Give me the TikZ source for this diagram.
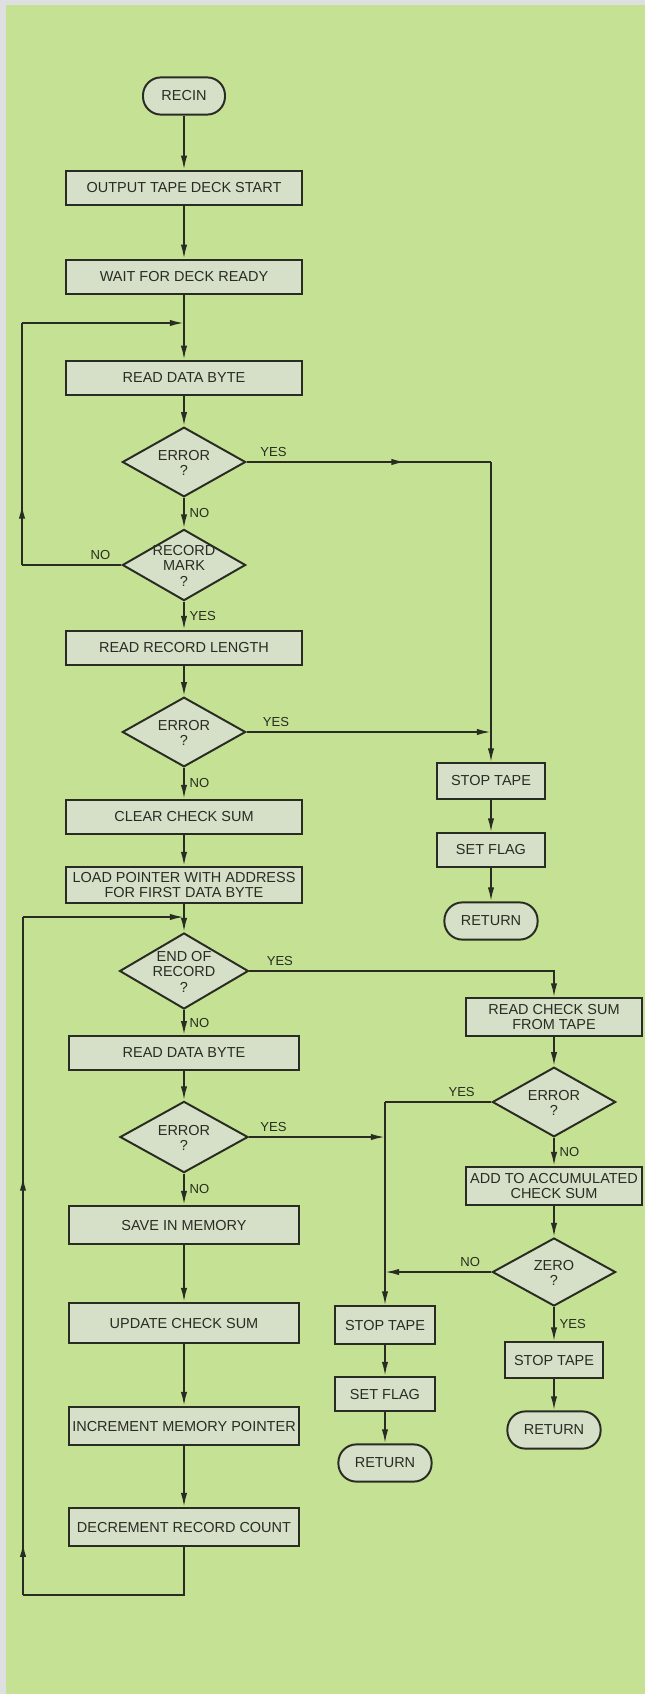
\documentclass[tikz,border=0pt]{standalone}
\usepackage{fontspec}
\setmainfont{Liberation Sans}
\usetikzlibrary{arrows.meta,shapes.geometric,decorations.markings}

\definecolor{paper}{RGB}{197,226,148}
\definecolor{margin}{RGB}{222,223,225}
\definecolor{boxfill}{RGB}{214,223,200}
\definecolor{ink}{RGB}{40,44,34}

% text of a decision, kept out of the diamond's size
\newcommand{\dtxt}[1]{\smash{\makebox[0pt]{\raisebox{-4.5pt}{\begin{tabular}{@{}c@{}}#1\end{tabular}}}}}

\begin{document}
\begin{tikzpicture}[
    x=0.025cm, y=-0.025cm,
    every node/.style={font=\fontsize{10.3}{11}\selectfont, align=center, text=ink},
    proc/.style={rectangle, draw=ink, line width=1.4pt, fill=boxfill,
                 minimum width=5.9cm, minimum height=0.86cm, inner sep=1pt},
    proclow/.style={proc, minimum width=5.75cm, minimum height=0.95cm},
    terminal/.style={rectangle, rounded corners=0.45cm, draw=ink, line width=1.4pt,
                     fill=boxfill, minimum width=2.33cm, minimum height=0.93cm},
    decision/.style={diamond, draw=ink, line width=1.4pt, fill=boxfill, inner sep=0pt,
                     minimum width=3.08cm, minimum height=1.74cm},
    lbl/.style={font=\fontsize{9.3}{10}\selectfont},
    wire/.style={line width=1.3pt, color=ink},
    arr/.style={wire, -{Latex[length=10pt,width=4.5pt]}},
    midarr/.style={postaction={decoration={markings,
                   mark=at position #1 with {\arrow{Latex[length=10pt,width=4.5pt]}}}, decorate}},
]
\fill[margin] (0,0) rectangle (645,1694);
\fill[paper] (6,5) rectangle (645,1694);

% main column
\node[terminal, minimum width=2.05cm] (recin) at (184,96) {RECIN};
\node[proc] (deckstart) at (184,188) {OUTPUT TAPE DECK START};
\node[proc] (deckready) at (184,277) {WAIT FOR DECK READY};
\node[proc] (readbyte) at (184,378) {READ DATA BYTE};
\node[decision] (err1) at (184,462) {\dtxt{ERROR\\?}};
\node[decision, minimum height=1.78cm] (mark) at (184,565) {\dtxt{RECORD\\MARK\\?}};
\node[proc] (readlen) at (184,648) {READ RECORD LENGTH};
\node[decision] (err2) at (184,732) {\dtxt{ERROR\\?}};
\node[proc] (clrsum) at (184,817) {CLEAR CHECK SUM};
\node[proc, minimum height=0.9cm] (loadptr) at (184,885) {LOAD POINTER WITH ADDRESS\\FOR FIRST DATA BYTE};
\node[decision, minimum width=3.22cm, minimum height=1.9cm] (endrec) at (184,971) {\dtxt{END OF\\RECORD\\?}};
\node[proclow, minimum height=0.84cm] (readbyte2) at (184,1053) {READ DATA BYTE};
\node[decision, minimum width=3.2cm, minimum height=1.78cm] (err3) at (184,1137) {\dtxt{ERROR\\?}};
\node[proclow] (savemem) at (184,1225) {SAVE IN MEMORY};
\node[proclow, minimum height=1cm] (updsum) at (184,1323) {UPDATE CHECK SUM};
\node[proclow] (incptr) at (184,1426) {INCREMENT MEMORY POINTER};
\node[proclow] (decrec) at (184,1527) {DECREMENT RECORD COUNT};

% first error exit
\coordinate (c1) at (491,462);
\coordinate (c1b) at (491,732);
\node[proc, minimum width=2.72cm, minimum height=0.88cm] (stop1) at (491,781) {STOP TAPE};
\node[proc, minimum width=2.72cm, minimum height=0.83cm] (flag1) at (491,850) {SET FLAG};
\node[terminal] (ret1) at (491,921) {RETURN};

% check sum column
\coordinate (c2) at (554,971);
\node[proc, minimum width=4.38cm, minimum height=0.93cm] (rdsum) at (554,1017) {READ CHECK SUM\\FROM TAPE};
\node[decision] (err4) at (554,1102) {\dtxt{ERROR\\?}};
\node[proc, minimum width=4.38cm, minimum height=0.95cm] (addsum) at (554,1186) {ADD TO ACCUMULATED\\CHECK SUM};
\node[decision, minimum height=1.7cm] (zero) at (554,1272) {\dtxt{ZERO\\?}};
\node[proc, minimum width=2.45cm, minimum height=0.88cm] (stop3) at (554,1360) {STOP TAPE};
\node[terminal] (ret3) at (554,1430) {RETURN};

% second error exit
\coordinate (c3) at (385,1102);
\coordinate (c4) at (385,1137);
\coordinate (c5) at (385,1272);
\node[proc, minimum width=2.48cm, minimum height=0.93cm] (stop2) at (385,1325) {STOP TAPE};
\node[proc, minimum width=2.48cm, minimum height=0.85cm] (flag2) at (385,1394) {SET FLAG};
\node[terminal] (ret2) at (385,1463) {RETURN};

% loops
\coordinate (j1) at (184,323);
\coordinate (l1a) at (22,565);
\coordinate (l1b) at (22,323);
\coordinate (j2) at (184,917);
\coordinate (l2a) at (184,1595);
\coordinate (l2b) at (23,1595);
\coordinate (l2c) at (23,917);

\draw[arr] (recin) -- (deckstart);
\draw[arr] (deckstart) -- (deckready);
\draw[arr] (deckready) -- (readbyte);
\draw[arr] (readbyte) -- (err1);
\draw[arr] (err1) -- node[lbl, right]{NO} (mark);
\draw[arr] (mark) -- node[lbl, right]{YES} (readlen);
\draw[arr] (readlen) -- (err2);
\draw[arr] (err2) -- node[lbl, right]{NO} (clrsum);
\draw[arr] (clrsum) -- (loadptr);
\draw[arr] (loadptr) -- (endrec);
\draw[arr] (endrec) -- node[lbl, right]{NO} (readbyte2);
\draw[arr] (readbyte2) -- (err3);
\draw[arr] (err3) -- node[lbl, right]{NO} (savemem);
\draw[arr] (savemem) -- (updsum);
\draw[arr] (updsum) -- (incptr);
\draw[arr] (incptr) -- (decrec);

\draw[wire, midarr=0.65] (err1) -- node[lbl, above, pos=0.11]{YES} (c1);
\draw[arr] (c1) -- (stop1);
\draw[arr] (err2) -- node[lbl, above, pos=0.12]{YES} (c1b);
\draw[arr] (stop1) -- (flag1);
\draw[arr] (flag1) -- (ret1);

\draw[arr] (endrec) -- node[lbl, above, pos=0.1]{YES} (c2) -- (rdsum);
\draw[arr] (rdsum) -- (err4);
\draw[arr] (err4) -- node[lbl, right]{NO} (addsum);
\draw[arr] (addsum) -- (zero);
\draw[arr] (zero) -- node[lbl, right]{YES} (stop3);
\draw[arr] (stop3) -- (ret3);

\draw[wire] (err4) -- node[lbl, above, pos=0.28]{YES} (c3);
\draw[arr] (c3) -- (stop2);
\draw[arr] (err3) -- node[lbl, above, pos=0.18]{YES} (c4);
\draw[arr] (zero) -- node[lbl, above, pos=0.2]{NO} (c5);
\draw[arr] (stop2) -- (flag2);
\draw[arr] (flag2) -- (ret2);

\draw[wire] (mark) -- node[lbl, above, pos=0.21]{NO} (l1a);
\draw[wire, midarr=0.25] (l1a) -- (l1b);
\draw[arr] (l1b) -- (j1);

\draw[wire] (decrec) -- (l2a) -- (l2b);
\draw[wire, midarr=0.077, midarr=0.617] (l2b) -- (l2c);
\draw[arr] (l2c) -- (j2);
\end{tikzpicture}
\end{document}
